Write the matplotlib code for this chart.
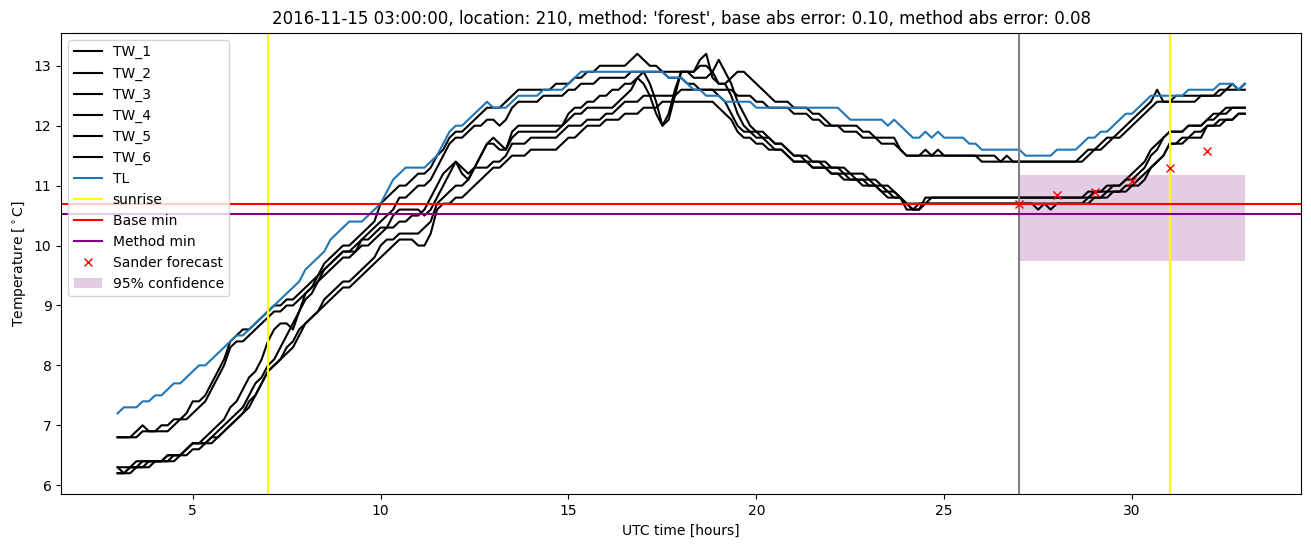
import numpy as np
import matplotlib
matplotlib.use("Agg")
import matplotlib.pyplot as plt

# ten-minute readings, 03:00 -> 33:00 UTC (one row per hour)
hours = np.arange(3, 33.01, 1 / 6)

tw_1 = [6.8, 6.8, 6.8, 6.9, 7.0, 6.9,   # 03h
        6.9, 7.0, 7.0, 7.1, 7.1, 7.2,   # 04h
        7.4, 7.4, 7.5, 7.7, 7.9, 8.1,   # 05h
        8.4, 8.5, 8.6, 8.6, 8.7, 8.8,   # 06h
        8.9, 9.0, 9.0, 9.1, 9.1, 9.2,   # 07h
        9.3, 9.4, 9.5, 9.7, 9.8, 9.9,   # 08h
        10.0, 10.0, 10.1, 10.2, 10.3, 10.4,  # 09h
        10.7, 10.8, 10.9, 11.0, 11.0, 11.1,  # 10h
        11.2, 11.2, 11.3, 11.5, 11.6, 11.8,  # 11h
        11.9, 11.9, 12.0, 12.1, 12.2, 12.3,  # 12h
        12.3, 12.3, 12.4, 12.5, 12.6, 12.6,  # 13h
        12.6, 12.6, 12.6, 12.6, 12.7, 12.7,  # 14h
        12.7, 12.8, 12.8, 12.9, 12.9, 13.0,  # 15h
        13.0, 13.0, 13.0, 13.0, 13.1, 13.2,  # 16h
        13.1, 13.0, 13.0, 12.9, 12.9, 12.9,  # 17h
        12.9, 12.9, 12.9, 13.0, 13.0, 12.9,  # 18h
        12.7, 12.7, 12.8, 12.9, 12.9, 12.8,  # 19h
        12.7, 12.6, 12.5, 12.4, 12.4, 12.4,  # 20h
        12.3, 12.3, 12.3, 12.2, 12.2, 12.1,  # 21h
        12.0, 12.0, 12.0, 12.0, 12.0, 11.9,  # 22h
        11.9, 11.8, 11.8, 11.8, 11.8, 11.6,  # 23h
        11.5, 11.5, 11.5, 11.6, 11.5, 11.6,  # 24h
        11.5, 11.5, 11.5, 11.5, 11.5, 11.5,  # 25h
        11.5, 11.5, 11.5, 11.4, 11.5, 11.4,  # 26h
        11.4, 11.4, 11.4, 11.4, 11.4, 11.4,  # 27h
        11.4, 11.4, 11.4, 11.4, 11.5, 11.6,  # 28h
        11.6, 11.7, 11.8, 11.8, 11.9, 12.0,  # 29h
        12.1, 12.2, 12.3, 12.4, 12.6, 12.4,  # 30h
        12.4, 12.5, 12.5, 12.5, 12.5, 12.5,  # 31h
        12.5, 12.5, 12.6, 12.6, 12.7, 12.6,  # 32h
        12.7]
tw_2 = [6.8, 6.8, 6.8, 6.8, 6.9, 6.9,   # 03h
        6.9, 6.9, 6.9, 7.0, 7.1, 7.1,   # 04h
        7.2, 7.3, 7.4, 7.6, 7.8, 8.0,   # 05h
        8.3, 8.4, 8.4, 8.5, 8.6, 8.7,   # 06h
        8.8, 8.9, 8.9, 9.0, 9.0, 9.1,   # 07h
        9.2, 9.3, 9.4, 9.6, 9.7, 9.8,   # 08h
        9.9, 9.9, 10.0, 10.1, 10.2, 10.3,  # 09h
        10.4, 10.5, 10.6, 10.8, 10.8, 10.9,  # 10h
        11.0, 11.0, 11.1, 11.3, 11.5, 11.7,  # 11h
        11.8, 11.8, 11.9, 12.0, 12.0, 12.1,  # 12h
        12.1, 12.0, 12.1, 12.3, 12.4, 12.4,  # 13h
        12.4, 12.4, 12.5, 12.5, 12.5, 12.5,  # 14h
        12.6, 12.6, 12.7, 12.7, 12.7, 12.8,  # 15h
        12.8, 12.8, 12.8, 12.8, 12.9, 12.9,  # 16h
        12.9, 12.9, 12.9, 12.9, 12.8, 12.8,  # 17h
        12.8, 12.7, 12.7, 12.6, 12.6, 12.6,  # 18h
        12.6, 12.6, 12.6, 12.5, 12.5, 12.5,  # 19h
        12.4, 12.4, 12.3, 12.3, 12.3, 12.3,  # 20h
        12.2, 12.2, 12.2, 12.1, 12.1, 12.0,  # 21h
        12.0, 12.0, 11.9, 11.9, 11.9, 11.8,  # 22h
        11.8, 11.8, 11.7, 11.7, 11.7, 11.6,  # 23h
        11.5, 11.5, 11.5, 11.5, 11.5, 11.5,  # 24h
        11.5, 11.5, 11.5, 11.5, 11.5, 11.5,  # 25h
        11.4, 11.4, 11.4, 11.4, 11.4, 11.4,  # 26h
        11.4, 11.4, 11.4, 11.4, 11.4, 11.4,  # 27h
        11.4, 11.4, 11.4, 11.4, 11.4, 11.5,  # 28h
        11.6, 11.6, 11.7, 11.8, 11.8, 11.9,  # 29h
        12.0, 12.1, 12.2, 12.3, 12.4, 12.4,  # 30h
        12.4, 12.4, 12.4, 12.4, 12.4, 12.5,  # 31h
        12.5, 12.5, 12.5, 12.6, 12.6, 12.6,  # 32h
        12.6]
tw_3 = [6.3, 6.3, 6.3, 6.4, 6.4, 6.4,   # 03h
        6.4, 6.4, 6.5, 6.5, 6.5, 6.6,   # 04h
        6.7, 6.7, 6.8, 6.9, 7.0, 7.1,   # 05h
        7.3, 7.4, 7.6, 7.8, 7.9, 8.1,   # 06h
        8.4, 8.6, 8.7, 8.7, 8.6, 8.9,   # 07h
        9.2, 9.3, 9.5, 9.6, 9.7, 9.8,   # 08h
        9.9, 9.9, 9.9, 10.0, 10.0, 10.1,  # 09h
        10.2, 10.3, 10.5, 10.6, 10.6, 10.6,  # 10h
        10.6, 10.5, 10.6, 10.8, 11.0, 11.2,  # 11h
        11.4, 11.3, 11.2, 11.3, 11.5, 11.7,  # 12h
        11.8, 11.7, 11.6, 11.9, 12.0, 12.0,  # 13h
        12.0, 12.0, 12.0, 12.0, 12.0, 12.0,  # 14h
        12.2, 12.3, 12.3, 12.4, 12.4, 12.5,  # 15h
        12.5, 12.6, 12.6, 12.7, 12.7, 12.8,  # 16h
        12.7, 12.5, 12.2, 12.0, 12.2, 12.6,  # 17h
        12.9, 12.9, 12.9, 13.1, 13.2, 12.8,  # 18h
        12.7, 12.7, 12.5, 12.2, 12.0, 11.9,  # 19h
        11.9, 11.8, 11.8, 11.7, 11.7, 11.6,  # 20h
        11.5, 11.5, 11.5, 11.4, 11.4, 11.4,  # 21h
        11.3, 11.3, 11.3, 11.2, 11.2, 11.2,  # 22h
        11.1, 11.1, 11.0, 11.0, 10.9, 10.8,  # 23h
        10.7, 10.6, 10.6, 10.7, 10.8, 10.8,  # 24h
        10.8, 10.8, 10.8, 10.8, 10.8, 10.8,  # 25h
        10.8, 10.8, 10.8, 10.8, 10.8, 10.8,  # 26h
        10.8, 10.8, 10.8, 10.8, 10.8, 10.8,  # 27h
        10.8, 10.8, 10.8, 10.8, 10.8, 10.9,  # 28h
        10.9, 10.9, 11.0, 11.0, 11.0, 11.1,  # 29h
        11.2, 11.3, 11.4, 11.6, 11.7, 11.8,  # 30h
        11.9, 11.9, 11.9, 12.0, 12.0, 12.0,  # 31h
        12.1, 12.2, 12.2, 12.3, 12.3, 12.3,  # 32h
        12.3]
tw_4 = [6.2, 6.2, 6.3, 6.3, 6.3, 6.4,   # 03h
        6.4, 6.4, 6.4, 6.5, 6.5, 6.6,   # 04h
        6.7, 6.7, 6.7, 6.8, 6.9, 7.0,   # 05h
        7.1, 7.2, 7.3, 7.5, 7.7, 7.8,   # 06h
        8.0, 8.1, 8.3, 8.5, 8.7, 8.9,   # 07h
        9.1, 9.2, 9.4, 9.5, 9.6, 9.7,   # 08h
        9.8, 9.8, 9.9, 10.1, 10.1, 10.2,  # 09h
        10.3, 10.3, 10.3, 10.4, 10.4, 10.5,  # 10h
        10.5, 10.6, 10.8, 11.0, 11.2, 11.3,  # 11h
        11.4, 11.2, 11.1, 11.3, 11.5, 11.7,  # 12h
        11.7, 11.6, 11.6, 11.8, 11.9, 11.9,  # 13h
        11.9, 11.9, 11.9, 11.9, 11.9, 12.0,  # 14h
        12.1, 12.2, 12.2, 12.3, 12.3, 12.3,  # 15h
        12.3, 12.3, 12.4, 12.5, 12.6, 12.8,  # 16h
        12.9, 12.7, 12.4, 12.0, 12.1, 12.5,  # 17h
        12.9, 12.9, 12.8, 12.8, 12.8, 12.9,  # 18h
        13.1, 12.9, 12.7, 12.4, 12.2, 12.0,  # 19h
        11.9, 11.9, 11.8, 11.7, 11.7, 11.6,  # 20h
        11.5, 11.5, 11.4, 11.4, 11.4, 11.3,  # 21h
        11.3, 11.3, 11.2, 11.2, 11.1, 11.1,  # 22h
        11.1, 11.0, 11.0, 10.9, 10.9, 10.8,  # 23h
        10.7, 10.6, 10.6, 10.8, 10.8, 10.8,  # 24h
        10.8, 10.8, 10.8, 10.8, 10.8, 10.8,  # 25h
        10.8, 10.8, 10.8, 10.8, 10.8, 10.8,  # 26h
        10.8, 10.8, 10.8, 10.8, 10.8, 10.8,  # 27h
        10.8, 10.8, 10.8, 10.8, 10.8, 10.8,  # 28h
        10.9, 10.9, 10.9, 11.0, 11.0, 11.1,  # 29h
        11.1, 11.2, 11.3, 11.5, 11.6, 11.8,  # 30h
        11.9, 11.9, 11.9, 12.0, 12.0, 12.0,  # 31h
        12.1, 12.1, 12.2, 12.2, 12.3, 12.3,  # 32h
        12.3]
tw_5 = [6.3, 6.2, 6.3, 6.3, 6.4, 6.4,   # 03h
        6.4, 6.4, 6.5, 6.5, 6.5, 6.6,   # 04h
        6.7, 6.7, 6.7, 6.8, 6.8, 6.9,   # 05h
        7.0, 7.1, 7.2, 7.4, 7.5, 7.7,   # 06h
        7.9, 8.0, 8.1, 8.3, 8.4, 8.6,   # 07h
        8.7, 8.8, 8.9, 9.1, 9.2, 9.3,   # 08h
        9.4, 9.4, 9.5, 9.6, 9.7, 9.8,   # 09h
        10.0, 10.1, 10.1, 10.2, 10.2, 10.2,  # 10h
        10.2, 10.3, 10.4, 10.7, 10.8, 10.9,  # 11h
        11.0, 11.0, 11.1, 11.3, 11.3, 11.3,  # 12h
        11.4, 11.4, 11.5, 11.7, 11.7, 11.7,  # 13h
        11.8, 11.8, 11.8, 11.8, 11.8, 11.9,  # 14h
        12.0, 12.0, 12.0, 12.1, 12.1, 12.1,  # 15h
        12.2, 12.2, 12.3, 12.4, 12.4, 12.4,  # 16h
        12.5, 12.5, 12.5, 12.5, 12.5, 12.5,  # 17h
        12.6, 12.6, 12.6, 12.6, 12.6, 12.6,  # 18h
        12.5, 12.4, 12.2, 12.0, 11.9, 11.9,  # 19h
        11.8, 11.8, 11.7, 11.6, 11.6, 11.5,  # 20h
        11.4, 11.4, 11.4, 11.3, 11.3, 11.3,  # 21h
        11.2, 11.2, 11.2, 11.1, 11.1, 11.1,  # 22h
        11.0, 11.0, 10.9, 10.9, 10.8, 10.8,  # 23h
        10.6, 10.6, 10.7, 10.7, 10.7, 10.7,  # 24h
        10.7, 10.7, 10.7, 10.7, 10.7, 10.7,  # 25h
        10.7, 10.7, 10.7, 10.7, 10.7, 10.7,  # 26h
        10.7, 10.7, 10.7, 10.6, 10.7, 10.6,  # 27h
        10.7, 10.7, 10.7, 10.7, 10.7, 10.8,  # 28h
        10.8, 10.8, 10.9, 10.9, 10.9, 11.0,  # 29h
        11.0, 11.1, 11.2, 11.3, 11.4, 11.5,  # 30h
        11.7, 11.7, 11.8, 11.8, 11.9, 11.9,  # 31h
        12.0, 12.0, 12.1, 12.1, 12.1, 12.2,  # 32h
        12.2]
tw_6 = [6.2, 6.2, 6.2, 6.3, 6.3, 6.3,   # 03h
        6.4, 6.4, 6.4, 6.4, 6.5, 6.5,   # 04h
        6.6, 6.6, 6.7, 6.7, 6.8, 6.9,   # 05h
        7.0, 7.1, 7.2, 7.3, 7.5, 7.7,   # 06h
        7.9, 8.0, 8.1, 8.2, 8.3, 8.5,   # 07h
        8.7, 8.8, 8.9, 9.0, 9.1, 9.2,   # 08h
        9.3, 9.3, 9.4, 9.5, 9.6, 9.7,   # 09h
        9.8, 9.9, 10.0, 10.1, 10.1, 10.1,  # 10h
        10.0, 10.0, 10.2, 10.6, 10.7, 10.7,  # 11h
        10.8, 10.8, 10.9, 11.0, 11.1, 11.2,  # 12h
        11.3, 11.3, 11.4, 11.5, 11.5, 11.5,  # 13h
        11.6, 11.6, 11.6, 11.6, 11.6, 11.7,  # 14h
        11.8, 11.8, 11.9, 12.0, 12.0, 12.0,  # 15h
        12.1, 12.1, 12.1, 12.2, 12.2, 12.2,  # 16h
        12.3, 12.3, 12.3, 12.4, 12.4, 12.4,  # 17h
        12.4, 12.4, 12.4, 12.4, 12.4, 12.4,  # 18h
        12.3, 12.2, 12.1, 11.9, 11.8, 11.8,  # 19h
        11.7, 11.7, 11.6, 11.6, 11.6, 11.5,  # 20h
        11.4, 11.4, 11.4, 11.3, 11.3, 11.3,  # 21h
        11.2, 11.2, 11.1, 11.1, 11.1, 11.0,  # 22h
        11.0, 11.0, 10.9, 10.8, 10.8, 10.8,  # 23h
        10.7, 10.7, 10.7, 10.7, 10.7, 10.7,  # 24h
        10.7, 10.7, 10.7, 10.7, 10.7, 10.7,  # 25h
        10.7, 10.7, 10.7, 10.7, 10.7, 10.7,  # 26h
        10.7, 10.7, 10.7, 10.7, 10.7, 10.7,  # 27h
        10.7, 10.7, 10.7, 10.7, 10.7, 10.7,  # 28h
        10.8, 10.8, 10.8, 10.9, 10.9, 10.9,  # 29h
        11.0, 11.0, 11.1, 11.3, 11.4, 11.5,  # 30h
        11.7, 11.7, 11.7, 11.8, 11.8, 11.8,  # 31h
        12.0, 12.0, 12.0, 12.1, 12.1, 12.2,  # 32h
        12.2]
tl = [7.2, 7.3, 7.3, 7.3, 7.4, 7.4,   # 03h
      7.5, 7.5, 7.6, 7.7, 7.7, 7.8,   # 04h
      7.9, 8.0, 8.0, 8.1, 8.2, 8.3,   # 05h
      8.4, 8.5, 8.5, 8.6, 8.7, 8.8,   # 06h
      8.9, 9.0, 9.1, 9.2, 9.3, 9.4,   # 07h
      9.6, 9.7, 9.8, 9.9, 10.1, 10.2,  # 08h
      10.3, 10.4, 10.4, 10.4, 10.5, 10.6,  # 09h
      10.7, 10.9, 11.1, 11.2, 11.3, 11.3,  # 10h
      11.3, 11.3, 11.4, 11.5, 11.7, 11.9,  # 11h
      12.0, 12.0, 12.1, 12.2, 12.3, 12.4,  # 12h
      12.3, 12.3, 12.3, 12.4, 12.5, 12.5,  # 13h
      12.5, 12.5, 12.6, 12.6, 12.6, 12.6,  # 14h
      12.7, 12.8, 12.9, 12.9, 12.9, 12.9,  # 15h
      12.9, 12.9, 12.9, 12.9, 12.9, 12.9,  # 16h
      12.9, 12.9, 12.9, 12.9, 12.8, 12.8,  # 17h
      12.8, 12.7, 12.6, 12.6, 12.5, 12.5,  # 18h
      12.5, 12.4, 12.4, 12.4, 12.4, 12.4,  # 19h
      12.3, 12.3, 12.3, 12.3, 12.3, 12.3,  # 20h
      12.3, 12.3, 12.3, 12.3, 12.3, 12.3,  # 21h
      12.3, 12.3, 12.2, 12.1, 12.1, 12.1,  # 22h
      12.1, 12.1, 12.1, 12.0, 12.1, 12.0,  # 23h
      11.9, 11.8, 11.8, 11.9, 11.8, 11.9,  # 24h
      11.8, 11.8, 11.8, 11.8, 11.7, 11.7,  # 25h
      11.6, 11.6, 11.6, 11.6, 11.6, 11.6,  # 26h
      11.6, 11.5, 11.5, 11.5, 11.5, 11.5,  # 27h
      11.6, 11.6, 11.6, 11.6, 11.7, 11.8,  # 28h
      11.8, 11.9, 11.9, 12.0, 12.1, 12.2,  # 29h
      12.2, 12.3, 12.4, 12.5, 12.5, 12.5,  # 30h
      12.5, 12.5, 12.5, 12.6, 12.6, 12.6,  # 31h
      12.6, 12.6, 12.7, 12.7, 12.7, 12.6,  # 32h
      12.7]

sunrise = [7, 31]
forecast_start = 27
base_min = 10.7
method_min = 10.52

forecast_hours = [27, 28, 29, 30, 31, 32]
sander_forecast = [10.70, 10.85, 10.90, 11.08, 11.30, 11.57]
conf_hours = [27, 33]
conf_low = 9.75
conf_high = 11.18

fig, ax = plt.subplots(figsize=(13.11, 5.47), dpi=100)
plt.subplots_adjust(left=0.0467, right=0.9925, top=0.940, bottom=0.0965)

for i, tw in enumerate([tw_1, tw_2, tw_3, tw_4, tw_5, tw_6]):
    ax.plot(hours, tw, color='black', label='TW_%d' % (i + 1))
ax.plot(hours, tl, label='TL')

ax.axvline(sunrise[0], color='yellow', label='sunrise')
ax.axvline(sunrise[1], color='yellow')
ax.axvline(forecast_start, color='grey')
ax.axhline(base_min, color='red', label='Base min')
ax.axhline(method_min, color='purple', label='Method min')
ax.plot(forecast_hours, sander_forecast, 'x', color='red', label='Sander forecast')
ax.fill_between(conf_hours, conf_low, conf_high, color='purple', alpha=0.2,
                linewidth=0, label='95% confidence')

ax.set_title("2016-11-15 03:00:00, location: 210, method: 'forest', "
             "base abs error: 0.10, method abs error: 0.08")
ax.set_xlabel('UTC time [hours]')
ax.set_ylabel(r'Temperature [$^\circ$C]')
ax.legend(loc='upper left')

plt.savefig('out.png')
